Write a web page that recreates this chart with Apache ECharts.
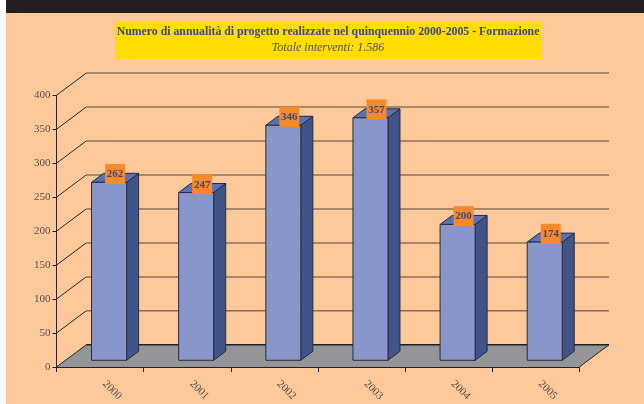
<!DOCTYPE html>
<html>
<head>
<meta charset="utf-8">
<style>
  html, body { margin: 0; padding: 0; background: #fff; }
  #main { width: 644px; height: 404px; }
</style>
<script src="https://cdn.jsdelivr.net/npm/echarts@6/dist/echarts.min.js"></script>
</head>
<body>
<div id="main"></div>
<script>
var years = ['2000', '2001', '2002', '2003', '2004', '2005'];
var interventi = [262, 247, 346, 357, 200, 174];
var gridValues = [0, 50, 100, 150, 200, 250, 300, 350, 400];

// finta prospettiva 3D, in pixel
var wallDx = 29.7, wallDy = -22.2;
var barDx = 12, barDy = -9;
var barShift = [9, -6.7];
var serif = '"Liberation Serif", serif';

function renderWall(params, api) {
  var v = api.value(0);
  var band = api.size([1, 0])[0];
  var a = api.coord([0, v]);
  var x0 = a[0] - band / 2, y = a[1];
  var x1 = api.coord([years.length - 1, v])[0] + band / 2;
  var children = [];
  if (v === 0) {
    children.push({
      type: 'polygon',
      shape: { points: [[x0, y], [x0 + wallDx, y + wallDy], [x1 + wallDx, y + wallDy], [x1, y]] },
      style: { fill: '#939598' }
    });
  }
  children.push({
    type: 'line',
    shape: { x1: x0, y1: y, x2: x0 + wallDx, y2: y + wallDy },
    style: { stroke: '#2b2422', lineWidth: 1 }
  });
  children.push({
    type: 'line',
    shape: { x1: x0 + wallDx, y1: y + wallDy, x2: x1 + wallDx, y2: y + wallDy },
    style: { stroke: v === 0 ? '#231f20' : '#8a6f58', lineWidth: 1.5 }
  });
  if (v === 0) {
    children.push({
      type: 'line',
      shape: { x1: x1, y1: y, x2: x1 + wallDx, y2: y + wallDy },
      style: { stroke: '#2b2422', lineWidth: 1 }
    });
  }
  return { type: 'group', children: children };
}

function renderBar(params, api) {
  var i = api.value(0);
  var top = api.coord([i, api.value(1)]);
  var base = api.coord([i, 0]);
  var w = api.size([1, 0])[0] * 0.402;
  var xl = top[0] + barShift[0] - w / 2, xr = xl + w;
  var yt = top[1] + barShift[1], yb = base[1] + barShift[1];
  var edge = { stroke: '#2a2a3c', lineWidth: 1, lineJoin: 'round' };
  return {
    type: 'group',
    children: [
      {
        type: 'polygon',
        shape: { points: [[xr, yt], [xr + barDx, yt + barDy], [xr + barDx, yb + barDy], [xr, yb]] },
        style: Object.assign({ fill: '#40548a' }, edge)
      },
      {
        type: 'polygon',
        shape: { points: [[xl, yt], [xl + barDx, yt + barDy], [xr + barDx, yt + barDy], [xr, yt]] },
        style: Object.assign({ fill: '#5a71b4' }, edge)
      },
      {
        type: 'rect',
        shape: { x: xl, y: yt, width: w, height: yb - yt },
        style: Object.assign({ fill: '#8896cc' }, edge)
      },
      {
        type: 'rect',
        shape: { x: top[0] + 5, y: top[1] - 25, width: 20, height: 20 },
        style: { fill: '#f6892a' }
      },
      {
        type: 'text',
        x: top[0] + 15,
        y: top[1] - 14.5,
        style: {
          text: String(api.value(1)),
          fill: '#3b4a82',
          font: 'bold 11px ' + serif,
          align: 'center',
          verticalAlign: 'middle'
        }
      }
    ]
  };
}

var myChart = echarts.init(document.getElementById('main'), null, { renderer: 'canvas' });
myChart.setOption({
  animation: false,
  backgroundColor: '#fff',
  graphic: [
    { type: 'rect', z: -10, shape: { x: 6, y: 0, width: 638, height: 404 }, style: { fill: '#fdc99b' } },
    { type: 'rect', z: -10, shape: { x: 6, y: 0, width: 638, height: 13 }, style: { fill: '#231f20' } },
    { type: 'rect', z: -10, shape: { x: 115, y: 21.5, width: 426, height: 37.5 }, style: { fill: '#ffdd00' } }
  ],
  title: {
    text: 'Numero di annualità di progetto realizzate nel quinquennio 2000-2005 - Formazione',
    subtext: 'Totale interventi: 1.586',
    left: 328,
    top: 26,
    textAlign: 'center',
    padding: 0,
    itemGap: 3.5,
    textStyle: { fontFamily: serif, fontSize: 11.8, fontWeight: 'bold', color: '#3b4a82' },
    subtextStyle: { fontFamily: serif, fontSize: 12, fontStyle: 'italic', color: '#55524f' }
  },
  grid: { left: 56.5, right: 64.7, top: 95.3, bottom: 37 },
  xAxis: {
    type: 'category',
    data: years,
    axisLine: { lineStyle: { color: '#231f20', width: 1 } },
    axisTick: { show: true, alignWithLabel: false, length: 5, lineStyle: { color: '#231f20' } },
    axisLabel: {
      rotate: -45,
      margin: 11,
      padding: [0, 0, 0, 6],
      fontFamily: serif,
      fontSize: 11,
      color: '#55504c'
    }
  },
  yAxis: {
    type: 'value',
    min: 0,
    max: 400,
    interval: 50,
    splitLine: { show: false },
    axisLine: { show: true, lineStyle: { color: '#2b2422', width: 1 } },
    axisTick: { show: true, length: 4, lineStyle: { color: '#2b2422' } },
    axisLabel: { margin: 6, fontFamily: serif, fontSize: 11, color: '#55504c' }
  },
  series: [
    {
      type: 'custom',
      clip: false,
      silent: true,
      z: 1,
      renderItem: renderWall,
      encode: { y: 0 },
      data: gridValues.map(function (v) { return [v]; })
    },
    {
      type: 'custom',
      clip: false,
      z: 2,
      renderItem: renderBar,
      encode: { x: 0, y: 1 },
      data: interventi.map(function (v, i) { return [i, v]; })
    }
  ]
});
</script>
</body>
</html>
